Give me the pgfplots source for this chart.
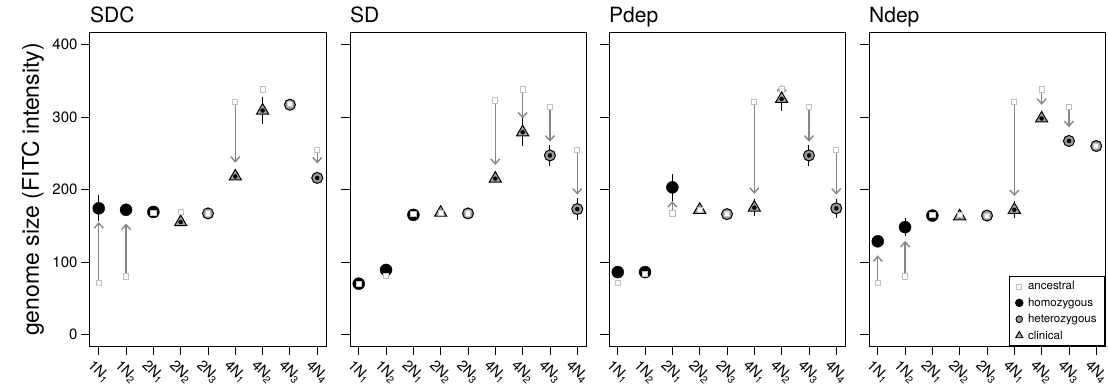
\documentclass[border=0pt]{standalone}
\usepackage{fontspec}
\setmainfont{TeX Gyre Heros}
\usepackage{pgfplots}
\usepackage{pgfplotstable}
\pgfplotsset{compat=1.18}
\usetikzlibrary{arrows.meta}
\definecolor{ancgray}{HTML}{C0C0C0}
\definecolor{arrgray}{HTML}{858585}
\definecolor{hetgray}{HTML}{9A9A9A}
\definecolor{clingray}{HTML}{A6A6A6}
% x: strain index, a: ancestral, hom/cli/het: evolved mean by genotype, e: error
\pgfplotstableread{
x a hom cli het e
1 71 174 nan nan 18
2 80 172 nan nan 5
3 168 169 nan nan 3
4 169 nan 155 nan 4
5 167 nan nan 167 3
6 321 nan 218 nan 5
7 338 nan 309 nan 19
8 318 nan nan 317 3
9 255 nan nan 216 4
}\sdc
\pgfplotstableread{
x a hom cli het e
1 70 70 nan nan 3
2 81 89 nan nan 4
3 166 165 nan nan 4
4 168 nan 168 nan 3
5 167 nan nan 167 3
6 323 nan 215 nan 4
7 338 nan 279 nan 19
8 314 nan nan 247 14
9 255 nan nan 173 15
}\sd
\pgfplotstableread{
x a hom cli het e
1 71 86 nan nan 4
2 83 86 nan nan 3
3 167 203 nan nan 19
4 172 nan 172 nan 3
5 166 nan nan 166 3
6 321 nan 175 nan 12
7 nan nan 325 nan 17
8 314 nan nan 247 14
9 255 nan nan 174 13
}\pdep
\pgfplotstableread{
x a hom cli het e
1 71 128.5 nan nan 4
2 80 148 nan nan 12
3 165 164 nan nan 4
4 165 nan 163 nan 3
5 163 nan nan 164 3
6 321 nan 172 nan 12
7 338 nan 298 nan 4
8 314 nan nan 267 8
9 260 nan nan 260 3
}\ndep
\pgfplotsset{
 panel/.style={scale only axis, width=236pt, height=313pt,
   xmin=0.68, xmax=9.32, ymin=-16, ymax=416,
   axis line style={line width=1pt},
   xtick={1,...,9},
   xticklabels={1N\textsubscript{1},1N\textsubscript{2},2N\textsubscript{1},2N\textsubscript{2},2N\textsubscript{3},4N\textsubscript{1},4N\textsubscript{2},4N\textsubscript{3},4N\textsubscript{4}},
   ytick={0,100,200,300,400},
   xtick pos=bottom, ytick pos=left, tick align=outside,
   major tick length=9pt,
   every tick/.style={black, line width=0.9pt},
   /pgf/number format/assume math mode=true,
   yticklabel style={font=\fontsize{15}{15}\selectfont},
   xticklabel style={font=\fontsize{14.5}{15}\selectfont, rotate=-45, anchor=center},
   xticklabel shift={17pt},
   title style={at={(0,1)}, anchor=base west, font=\fontsize{21}{21}\selectfont, inner sep=0pt, yshift=4pt},
   unbounded coords=discard,
   clip=false},
 anc/.style={only marks, mark=square*, mark size=2.6pt, mark options={draw=ancgray, fill=white, line width=0.9pt}, forget plot},
 ebar/.style={only marks, mark=none, forget plot, error bars/y dir=both, error bars/y explicit, error bars/error mark=none, error bars/error bar style={draw=black, line width=1pt}},
 homo/.style={only marks, mark=*, mark size=6pt, mark options={draw=black, fill=black}, forget plot},
 het/.style={only marks, mark=*, mark size=5.5pt, mark options={draw=black, fill=hetgray, line width=1pt}, forget plot},
 clin/.style={only marks, mark=triangle*, mark size=7pt, mark options={draw=black, fill=clingray, line width=1pt}, forget plot},
 arr/.style={arrgray, line width=1.4pt, -{Straight Barb[length=5pt,width=9pt]}, quiver={u=0,v=\thisrow{v}}, forget plot},
}
\newcommand{\panelplots}[1]{%
\addplot[homo] table[x=x, y=hom] {#1};
\addplot[clin] table[x=x, y=cli] {#1};
\addplot[het] table[x=x, y=het] {#1};
\addplot[ebar] table[x=x, y=hom, y error=e] {#1};
\addplot[ebar] table[x=x, y=cli, y error=e] {#1};
\addplot[ebar] table[x=x, y=het, y error=e] {#1};
\addplot[anc] table[x=x, y=a] {#1};
}
\begin{document}
\begin{tikzpicture}
\path[use as bounding box] (-90pt,-45pt) rectangle (1018pt,346pt);
% ---------------- SDC
\begin{axis}[panel, at={(0pt,0pt)}, anchor=south west, title={SDC},
  ylabel={genome size (FITC intensity)},
  ylabel style={at={(axis description cs:-0.29,0.5)}, anchor=north, font=\fontsize{23}{23}\selectfont, inner sep=0pt}]
\addplot[arr] table {
x y v
1 75 80
2 84 69
6 317 -80
9 251 -15
};
\panelplots{\sdc}
\end{axis}
% ---------------- SD
\begin{axis}[panel, at={(260pt,0pt)}, anchor=south west, title={SD}, yticklabels={}]
\addplot[arr] table {
x y v
6 319 -85
7 334 -36
8 310 -44
9 251 -58
};
\panelplots{\sd}
\end{axis}
% ---------------- Pdep
\begin{axis}[panel, at={(519pt,0pt)}, anchor=south west, title={Pdep}, yticklabels={}]
\addplot[anc] coordinates {(7,338)};
\addplot[arr] table {
x y v
3 171 13
6 317 -123
7 330 14
8 310 -44
9 251 -58
};
\panelplots{\pdep}
\end{axis}
% ---------------- Ndep
\begin{axis}[panel, at={(779pt,0pt)}, anchor=south west, title={Ndep}, yticklabels={},
  legend style={at={(1,0)}, anchor=south east, draw=black, line width=0.8pt,
    font=\fontsize{11.5}{12}\selectfont, inner xsep=6pt, inner ysep=3pt,
    row sep=2.5pt, cells={anchor=west},
    /tikz/every odd column/.append style={column sep=3pt}},
  legend cell align=left]
\addlegendimage{only marks, mark=square*, mark size=2.5pt, mark options={draw=ancgray, fill=white, line width=0.9pt}}
\addlegendentry{ancestral}
\addlegendimage{only marks, mark=*, mark size=3.8pt, mark options={draw=black, fill=black}}
\addlegendentry{homozygous}
\addlegendimage{only marks, mark=*, mark size=3.3pt, mark options={draw=black, fill=hetgray, line width=0.9pt}}
\addlegendentry{heterozygous}
\addlegendimage{only marks, mark=triangle*, mark size=4.2pt, mark options={draw=black, fill=clingray, line width=0.9pt}}
\addlegendentry{clinical}
\addplot[arr] table {
x y v
1 75 34
2 84 45
6 317 -126
7 334 -17
8 310 -24
};
\panelplots{\ndep}
\end{axis}
\end{tikzpicture}
\end{document}
